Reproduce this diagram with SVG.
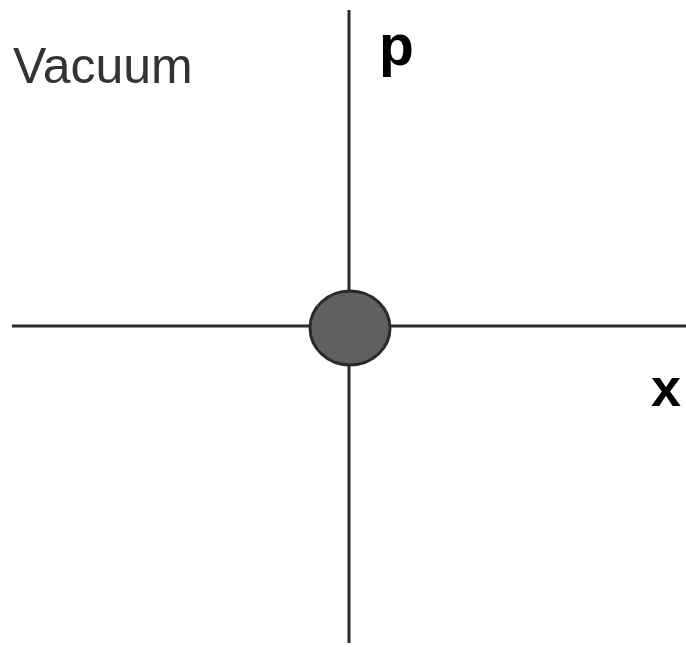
<svg xmlns="http://www.w3.org/2000/svg" width="686" height="647" viewBox="0 0 686 647">
<style>
.axis{stroke:#2a2a2a;stroke-width:3;fill:none}
.lbl{font-family:"Liberation Sans",Arial,sans-serif;font-weight:bold;fill:#000}
</style>
<rect width="686" height="647" fill="#fff"/>
<g id="connectors">
<line class="axis" x1="349" y1="10" x2="349" y2="643"/>
<line class="axis" x1="12" y1="326" x2="686" y2="326"/>
</g>
<g id="particle">
<ellipse cx="350" cy="328" rx="40" ry="37" fill="#606060" stroke="#2a2a2a" stroke-width="3"/>
</g>
<g id="label-vacuum">
<text x="13" y="83" font-family="Liberation Sans, Arial, sans-serif" font-size="50" fill="#333">Vacuum</text>
</g>
<g id="label-p">
<text class="lbl" x="379" y="65" font-size="57">p</text>
</g>
<g id="label-x">
<text class="lbl" x="651" y="406" font-size="54">x</text>
</g>
</svg>
